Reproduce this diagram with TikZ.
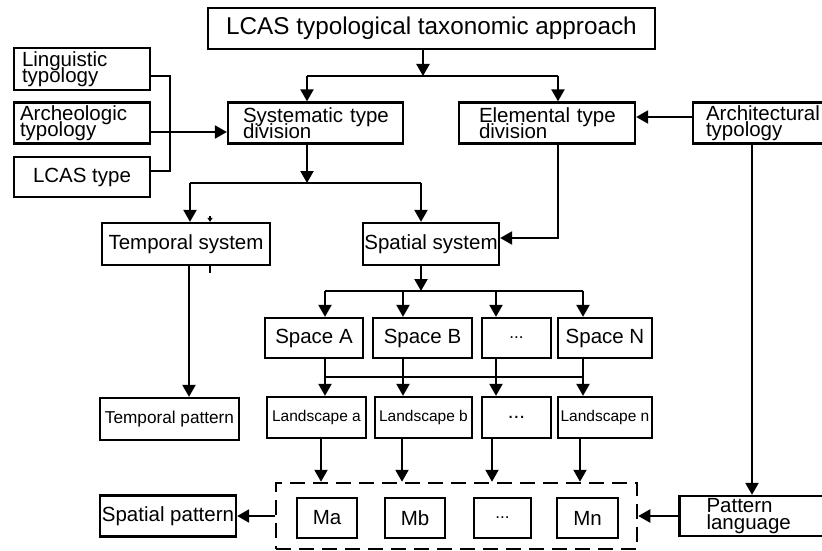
\documentclass[tikz,border=0pt]{standalone}
\usepackage{fontspec}
\setmainfont{Liberation Sans}
\usetikzlibrary{arrows.meta,calc}
\newcommand\tightlns{\lineskiplimit=-30pt\relax\lineskip=0pt\relax}
\begin{document}
\begin{tikzpicture}[x=1pt,y=-1pt,
  line/.style={line width=2.2pt},
  arr/.style={line width=2.2pt,-{Triangle[length=12pt,width=13pt]}},
  box/.style={draw,line width=2.3pt,inner sep=0pt,align=center,font=\fontsize{20.5}{16}\selectfont},
  lbox/.style={draw,line width=2.3pt,inner ysep=0pt,align=left,font=\fontsize{20.5}{16.5}\selectfont\tightlns},
  sbox/.style={box,font=\fontsize{15.5}{16}\selectfont},
  dbox/.style={draw,line width=2.5pt,dash pattern=on 15pt off 8pt}
]
\useasboundingbox (0,0) rectangle (822,551);
\fill[white] (0,0) rectangle (822,551);

% nodes
\node[box,minimum width=447,minimum height=41,font=\fontsize{24.3}{26}\selectfont] (top) at (431.5,28.5) {LCAS typological taxonomic approach};
\node[lbox,text width=120,inner xsep=8,minimum height=42] (ling) at (82,69) {Linguistic\\typology};
\node[lbox,text width=124,inner xsep=6,minimum height=41] (arch) at (82,123) {Archeologic\\typology};
\node[box,minimum width=136,minimum height=40] (lcas) at (82,177) {LCAS type};
\node[lbox,text width=145,inner xsep=15,minimum height=41] (sys) at (315.5,123) {Systematic~type\\division};
\node[lbox,text width=136,inner xsep=20,minimum height=41] (elem) at (547,123) {Elemental~type\\division};
\node[lbox,text width=116,inner xsep=13,minimum height=41] (archi) at (764,123) {Architectural\\typology};
\node[box,minimum width=168,minimum height=42] (tsys) at (186,244) {Temporal system};
\node[box,minimum width=136,minimum height=42] (ssys) at (431,244) {Spatial system};
\node[box,minimum width=139,minimum height=42,font=\fontsize{17.2}{18}\selectfont] (tpat) at (169.5,419) {Temporal pattern};
\node[box,minimum width=98,minimum height=40] (spA) at (314,338) {Space A};
\node[box,minimum width=99,minimum height=40] (spB) at (422.5,338) {Space B};
\node[box,minimum width=69,minimum height=40,font=\fontsize{17}{18}\selectfont] (spD) at (516.5,338) {...};
\node[box,minimum width=94,minimum height=40] (spN) at (605,338) {Space N};
\node[sbox,minimum width=99,minimum height=41] (laA) at (316.5,417.5) {Landscape a};
\node[sbox,minimum width=97,minimum height=41] (laB) at (423.5,417.5) {Landscape b};
\node[box,minimum width=69,minimum height=41,text depth=-4pt] (laD) at (516.5,417.5) {...};
\node[sbox,minimum width=94,minimum height=41] (laN) at (605,417.5) {Landscape n};
\node[dbox,minimum width=361,minimum height=66] (dash) at (456.5,516) {};
\node[box,minimum width=60,minimum height=40] (Ma) at (327,518) {Ma};
\node[box,minimum width=60,minimum height=40] (Mb) at (415,518) {Mb};
\node[box,minimum width=57,minimum height=40,font=\fontsize{17}{18}\selectfont] (MD) at (502.5,518) {...};
\node[box,minimum width=61,minimum height=40] (Mn) at (587.5,518) {Mn};
\node[box,minimum width=136,minimum height=41] (spat) at (168,516) {Spatial pattern};
\node[lbox,text width=115,inner xsep=27,minimum height=40] (plang) at (764,516) {Pattern\\language};

% helper coordinates
\coordinate (b1) at (423,76);
\coordinate (b1L) at (307,76);
\coordinate (b1R) at (558,76);
\coordinate (br) at (170,0);
\coordinate (b2) at (307,183);
\coordinate (b2L) at (190,183);
\coordinate (b2R) at (421,183);
\coordinate (xt) at (189,0);
\coordinate (b3) at (421,291);
\coordinate (b3L) at (325,291);
\coordinate (b3R) at (583,291);
\coordinate (xB) at (403,0);
\coordinate (xD) at (496,0);
\coordinate (b4L) at (325,377);
\coordinate (b4R) at (582,377);
\coordinate (ya) at (321,0);
\coordinate (yb) at (402,0);
\coordinate (yd) at (492,0);
\coordinate (yn) at (580,0);
\coordinate (xr) at (752,0);
\coordinate (tk) at (210,0);

% connectors
\draw[arr] (top.south -| b1) -- (b1);
\draw[line] (b1L) -- (b1R);
\draw[arr] (b1L) -- (sys.north -| b1L);
\draw[arr] (b1R) -- (elem.north -| b1R);
\draw[line] ([yshift=-7pt]ling.east) -| ([yshift=6pt]lcas.east -| br) -- ([yshift=6pt]lcas.east);
\draw[arr] ([yshift=-9pt]arch.east) -- ([yshift=-9pt]sys.west);
\draw[arr] ([yshift=6pt]archi.west) -- ([yshift=6pt]elem.east);
\draw[arr] (sys.south -| b2) -- (b2);
\draw[line] (b2L) -- (b2R);
\draw[arr] (b2L) -- (tsys.north -| b2L);
\draw[arr] (b2R) -- (ssys.north -| b2R);
\draw[arr] (elem.south -| b1R) |- ([yshift=6pt]ssys.east);
\draw[arr] (tsys.south -| xt) -- (tpat.north -| xt);
\draw[arr] (ssys.south -| b3) -- (b3);
\draw[line] (b3L) -- (b3R);
\draw[arr] (b3L) -- (spA.north -| b3L);
\draw[arr] (b3L -| xB) -- (spB.north -| xB);
\draw[arr] (b3L -| xD) -- (spD.north -| xD);
\draw[arr] (b3R) -- (spN.north -| b3R);
\draw[line] (b4L) -- (b4R);
\draw[arr] (spA.south -| b4L) -- (laA.north -| b4L);
\draw[arr] (spB.south -| xB) -- (laB.north -| xB);
\draw[arr] (spD.south -| xD) -- (laD.north -| xD);
\draw[arr] (spN.south -| b3R) -- (laN.north -| b3R);
\draw[arr] (laA.south -| ya) -- (dash.north -| ya);
\draw[arr] (laB.south -| yb) -- (dash.north -| yb);
\draw[arr] (laD.south -| yd) -- (dash.north -| yd);
\draw[arr] (laN.south -| yn) -- (dash.north -| yn);
\draw[arr] (dash.west) -- (spat.east);
\draw[arr] (plang.west) -- (dash.east);
\draw[arr] (archi.south -| xr) -- (plang.north -| xr);

% small tick marks on the temporal system box
\draw[line width=1.5pt,-{Triangle[length=4pt,width=5pt]}] ([yshift=6pt]tsys.north -| tk) -- (tsys.north -| tk);
\draw[line width=1.8pt] (tsys.south -| tk) -- ([yshift=-7pt]tsys.south -| tk);
\end{tikzpicture}
\end{document}
